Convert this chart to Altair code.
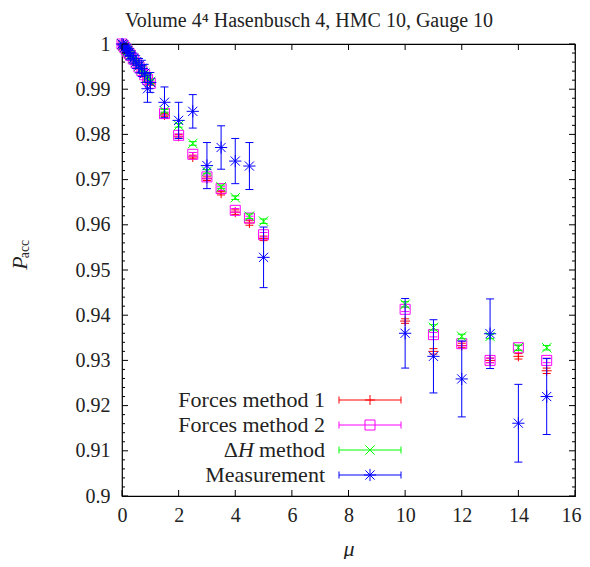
import altair as alt
import pandas as pd

FONT = "Liberation Serif"

title_text = "Volume 4\u2074 Hasenbusch 4, HMC 10, Gauge 10"
series_names = ["Forces method 1", "Forces method 2", "\u0394H method", "Measurement"]
series_colors = ["#ff0000", "#ff00ff", "#00ff00", "#0000ff"]

mu = [0.0, 0.05, 0.1, 0.15, 0.2, 0.25, 0.3, 0.4, 0.5, 0.6, 0.7, 0.8, 0.9, 1.0,
      1.5, 2.0, 2.5, 3.0, 3.5, 4.0, 4.5, 5.0,
      10, 11, 12, 13, 14, 15]

forces1 = [1.0, 0.9996, 0.9991, 0.9987, 0.9982, 0.9978, 0.9974, 0.9965, 0.9956, 0.9947, 0.9938, 0.9930, 0.9921, 0.9912,
           0.9843, 0.9796, 0.9750, 0.9702, 0.9670, 0.9628, 0.9604, 0.9570,
           0.9387, 0.9320, 0.9333, 0.9300, 0.9309, 0.9277]
forces1_err = [0.0, 0.0001, 0.0001, 0.0001, 0.0001, 0.0001, 0.0002, 0.0002, 0.0002, 0.0002, 0.0002, 0.0003, 0.0003, 0.0003,
               0.0003, 0.0004, 0.0004, 0.0004, 0.0004, 0.0005, 0.0005, 0.0005,
               0.0005, 0.0006, 0.0005, 0.0005, 0.0006, 0.0006]

forces2 = [1.0, 0.9996, 0.9992, 0.9988, 0.9983, 0.9979, 0.9975, 0.9967, 0.9958, 0.9949, 0.9941, 0.9932, 0.9922, 0.9913,
           0.9846, 0.9798, 0.9756, 0.9706, 0.9680, 0.9632, 0.9615, 0.9578,
           0.9413, 0.9357, 0.9337, 0.9300, 0.9328, 0.9300]
forces2_err = [0.0, 0.0001, 0.0001, 0.0001, 0.0001, 0.0001, 0.0002, 0.0002, 0.0002, 0.0002, 0.0002, 0.0003, 0.0003, 0.0003,
               0.0003, 0.0003, 0.0004, 0.0004, 0.0004, 0.0004, 0.0004, 0.0005,
               0.0005, 0.0005, 0.0005, 0.0005, 0.0005, 0.0005]

dh = [1.0, 0.9996, 0.9992, 0.9988, 0.9984, 0.9980, 0.9976, 0.9968, 0.9960, 0.9951, 0.9943, 0.9935, 0.9926, 0.9917,
      0.9852, 0.9820, 0.9780, 0.9718, 0.9684, 0.9660, 0.9619, 0.9608,
      0.9424, 0.9373, 0.9353, 0.9353, 0.9328, 0.9328]
dh_err = [0.0, 0.0001, 0.0001, 0.0001, 0.0001, 0.0002, 0.0002, 0.0002, 0.0002, 0.0003, 0.0003, 0.0003, 0.0003, 0.0003,
          0.0003, 0.0004, 0.0004, 0.0004, 0.0004, 0.0004, 0.0005, 0.0005,
          0.0006, 0.0006, 0.0005, 0.0005, 0.0006, 0.0005]

meas = [1.0, 0.9998, 0.9993, 0.9990, 0.9986, 0.9981, 0.9975, 0.9968, 0.9960, 0.9952, 0.9946, 0.9935, 0.9901, 0.9915,
        0.9871, 0.9831, 0.9851, 0.9731, 0.9771, 0.9741, 0.9730, 0.9528,
        0.9360, 0.9309, 0.9259, 0.9359, 0.9161, 0.9220]
meas_err = [0.0, 0.0003, 0.0005, 0.0006, 0.0007, 0.0008, 0.0010, 0.0012, 0.0014, 0.0016, 0.0018, 0.0020, 0.0030, 0.0022,
            0.0034, 0.0040, 0.0037, 0.0051, 0.0048, 0.0050, 0.0052, 0.0067,
            0.0077, 0.0081, 0.0084, 0.0077, 0.0086, 0.0084]

x_ticks = [0, 2, 4, 6, 8, 10, 12, 14, 16]
y_ticks = [0.90, 0.91, 0.92, 0.93, 0.94, 0.95, 0.96, 0.97, 0.98, 0.99, 1.00]
y_minor = [round(0.9 + 0.002 * i, 3) for i in range(51) if i % 5 != 0]

# ---- layout / styling ----
W, H = 453, 452
PLUS = "M-1,0L1,0M0,-1L0,1"
CROSS = "M-1,-1L1,1M-1,1L1,-1"
STAR = "M-1,0L1,0M0,-1L0,1M-0.75,-0.75L0.75,0.75M-0.75,0.75L0.75,-0.75"
shapes = [PLUS, "square", CROSS, STAR]
sizes = [100, 100, 90, 150]
CAP_H = "M-1,0L1,0"
CAP_V = "M0,-1L0,1"

xs = alt.Scale(domain=[0, 16], nice=False, zero=False)
ys = alt.Scale(domain=[0.9, 1.0], nice=False, zero=False)
X_AX = alt.Axis(values=x_ticks, format="d", labelPadding=9, titlePadding=13, labelFlush=False,
                labelOffset={"condition": {"test": "datum.value == 16", "value": -4}, "value": 0},
                titleFont=FONT, titleFontSize=22, titleFontStyle="italic", titleFontWeight="normal")
Y_AX = alt.Axis(values=y_ticks, format=".2~f", labelPadding=12, labelFlush=False)


def X(f):
    return alt.X(f, scale=xs, axis=X_AX, title="\u03bc")


def Y(f):
    return alt.Y(f, scale=ys, axis=Y_AX, title="")


values = [forces1, forces2, dh, meas]
errors = [forces1_err, forces2_err, dh_err, meas_err]

layers = []

for name, col, shp, sz, v, e in zip(series_names, series_colors, shapes, sizes, values, errors):
    df = pd.DataFrame({"mu": mu, "p": v, "err": e})
    df["lo"] = df["p"] - df["err"]
    df["hi"] = df["p"] + df["err"]
    base = alt.Chart(df)
    ebase = base.transform_filter("datum.err > 0")
    layers.append(
        ebase.mark_rule(color=col, strokeWidth=1).encode(x=X("mu:Q"), y=Y("lo:Q"), y2="hi:Q")
    )
    for fld in ["lo", "hi"]:
        layers.append(
            ebase.mark_point(shape=CAP_H, size=64, filled=False, color=col, strokeWidth=1, opacity=1).encode(
                x=X("mu:Q"), y=Y(f"{fld}:Q"))
        )
    layers.append(
        base.mark_point(shape=shp, size=sz, filled=False, color=col, strokeWidth=1, opacity=1).encode(
            x=X("mu:Q"), y=Y("p:Q"))
    )

# inward ticks (gnuplot style, mirrored)
xt = pd.DataFrame({"t": x_ticks})
ytM = pd.DataFrame({"t": y_ticks})
ytm = pd.DataFrame({"t": y_minor})
MAJ, MIN = 6, 3
layers += [
    alt.Chart(xt).mark_rule(color="black").encode(x=X("t:Q"), y=alt.value(H), y2=alt.value(H - MAJ)),
    alt.Chart(xt).mark_rule(color="black").encode(x=X("t:Q"), y=alt.value(0), y2=alt.value(MAJ)),
    alt.Chart(ytM).mark_rule(color="black").encode(y=Y("t:Q"), x=alt.value(0), x2=alt.value(MAJ)),
    alt.Chart(ytM).mark_rule(color="black").encode(y=Y("t:Q"), x=alt.value(W), x2=alt.value(W - MAJ)),
    alt.Chart(ytm).mark_rule(color="black").encode(y=Y("t:Q"), x=alt.value(0), x2=alt.value(MIN)),
    alt.Chart(ytm).mark_rule(color="black").encode(y=Y("t:Q"), x=alt.value(W), x2=alt.value(W - MIN)),
]

# key (gnuplot style, inside bottom-left)
leg = pd.DataFrame({"name": series_names, "col": series_colors, "shape": shapes, "sz": sizes})
leg["ly"] = 356 + 25 * leg.index
leg["plain"] = [n if not n.startswith("\u0394") else "" for n in series_names]
TX, L0, L1 = 203, 217, 279
LM = (L0 + L1) / 2
LFS = 22
lb = alt.Chart(leg)
ly = alt.Y("ly:Q", scale=None)
layers += [
    lb.mark_text(align="right", baseline="middle", font=FONT, fontSize=LFS, color="#222").encode(
        x=alt.value(TX), y=ly, text="plain:N"),
    lb.mark_rule(strokeWidth=1).encode(
        x=alt.value(L0), x2=alt.value(L1), y=ly, color=alt.Color("col:N", scale=None)),
    lb.mark_point(shape=CAP_V, size=49, filled=False, strokeWidth=1, opacity=1).encode(
        x=alt.value(L0), y=ly, color=alt.Color("col:N", scale=None)),
    lb.mark_point(shape=CAP_V, size=49, filled=False, strokeWidth=1, opacity=1).encode(
        x=alt.value(L1), y=ly, color=alt.Color("col:N", scale=None)),
    lb.mark_point(filled=False, strokeWidth=1, opacity=1).encode(
        x=alt.value(LM), y=ly, color=alt.Color("col:N", scale=None),
        shape=alt.Shape("shape:N", scale=None), size=alt.Size("sz:Q", scale=None)),
]
# "ΔH method" with an italic H, set in three pieces
dh_row = 356 + 25 * 2
pieces = pd.DataFrame({"t": ["\u0394", "H", " method"]})
layers += [
    alt.Chart(pieces.iloc[[2]]).mark_text(align="right", baseline="middle", font=FONT, fontSize=LFS,
                                          color="#222").encode(x=alt.value(TX), y=alt.value(dh_row), text="t:N"),
    alt.Chart(pieces.iloc[[1]]).mark_text(align="right", baseline="middle", font=FONT, fontSize=LFS,
                                          fontStyle="italic", color="#222").encode(
        x=alt.value(TX - 71), y=alt.value(dh_row), text="t:N"),
    alt.Chart(pieces.iloc[[0]]).mark_text(align="right", baseline="middle", font=FONT, fontSize=LFS,
                                          color="#222").encode(x=alt.value(TX - 87), y=alt.value(dh_row), text="t:N"),
]

# title and y-axis label
tdf = pd.DataFrame({"t": [title_text]})
layers.append(
    alt.Chart(tdf).mark_text(font=FONT, fontSize=20, align="center", baseline="middle", color="#222").encode(
        x=alt.value(187), y=alt.value(-23), text="t:N")
)
pdf = pd.DataFrame({"t": ["P"]})
adf = pd.DataFrame({"t": ["acc"]})
layers += [
    alt.Chart(pdf).mark_text(font=FONT, fontSize=22, fontStyle="italic", angle=270, align="center",
                             baseline="middle", color="#222").encode(
        x=alt.value(-102), y=alt.value(219), text="t:N"),
    alt.Chart(adf).mark_text(font=FONT, fontSize=14, angle=270, align="center",
                             baseline="middle", color="#222").encode(
        x=alt.value(-97), y=alt.value(205), text="t:N"),
]

chart = alt.layer(*layers).properties(
    width=W, height=H,
    padding={"left": 114, "top": 36, "right": 7, "bottom": 63},
    autosize=alt.AutoSizeParams(type="none"),
).configure_view(
    stroke="black", strokeWidth=1.2
).configure_axis(
    grid=False, domain=False, ticks=False, labelFont=FONT, labelFontSize=20, labelColor="#222",
    titleColor="#222"
)

chart.save("out.html", embed_options={"renderer": "svg", "actions": False})
